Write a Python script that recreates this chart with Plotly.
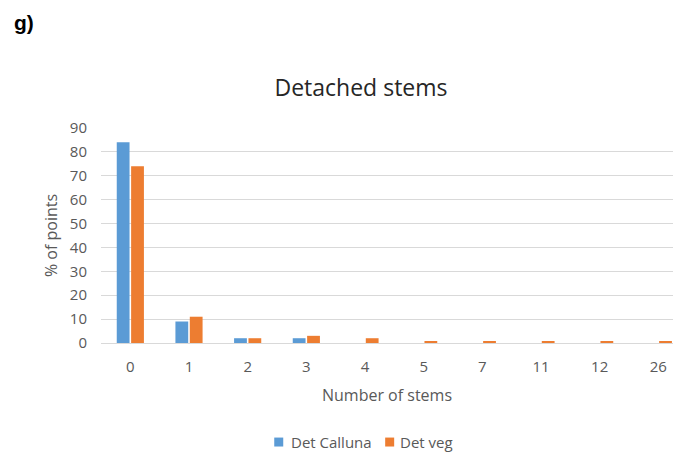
import plotly.graph_objects as go

categories = ["0", "1", "2", "3", "4", "5", "7", "11", "12", "26"]
det_calluna = [84, 9, 2, 2, 0, 0, 0, 0, 0, 0]
det_veg = [74, 11, 2, 3, 2, 0.8, 0.8, 0.8, 0.8, 0.8]
series_names = ["Det Calluna", "Det veg"]
series_colors = ["#5B9BD5", "#ED7D31"]

FONT = "Open Sans"
GREY = "#595959"

fig = go.Figure()
for name, vals, col in zip(series_names, [det_calluna, det_veg], series_colors):
    fig.add_trace(go.Bar(x=categories, y=vals, name=name,
                         marker=dict(color=col, line=dict(width=0))))

# the page is offset by an 8px body margin; visible area ends at x=673, y=456
W, H = 665, 448
L, T, B = 92.65, 119.5, 112.5
PW = W - L
PH = H - T - B


def px(fx):
    return (fx - L) / PW


def py(fy):
    return (T + PH - fy) / PH


# legend drawn as key squares + text (legend row, figure pixel coords)
legend_x = [(266, 281), (377, 390)]
legend_y = 435
shapes = []
annotations = [dict(text="<b>g)</b>", xref="paper", yref="paper", x=px(4),
                    xanchor="left", y=py(14), yanchor="middle",
                    showarrow=False, font=dict(family="Liberation Sans", size=21, color="black"))]
for (sx, tx), name, col in zip(legend_x, series_names, series_colors):
    shapes.append(dict(type="rect", xref="paper", yref="paper",
                       x0=px(sx), x1=px(sx + 9), y0=py(legend_y + 4.5), y1=py(legend_y - 4.5),
                       fillcolor=col, line=dict(width=0)))
    annotations.append(dict(text=name, xref="paper", yref="paper", x=px(tx), xanchor="left",
                            y=py(legend_y), yanchor="middle", showarrow=False,
                            font=dict(family=FONT, size=15, color=GREY)))

fig.update_layout(
    width=W, height=H,
    paper_bgcolor="white", plot_bgcolor="white",
    margin=dict(l=L, r=0, t=T, b=B),
    barmode="group", bargap=0.51, bargroupgap=0.11,
    showlegend=False,
    font=dict(family=FONT, size=15, color=GREY),
    title=dict(text="Detached stems", x=353 / W, xanchor="center", y=1 - 80 / H, yanchor="middle",
               font=dict(family=FONT, size=23, color="#262626")),
    shapes=shapes,
    annotations=annotations,
)
fig.update_xaxes(type="category", range=[-0.5, 9.25], showgrid=False,
                 showline=True, linecolor="#D9D9D9", linewidth=1,
                 ticks="outside", ticklen=10, tickcolor="rgba(0,0,0,0)",
                 tickfont=dict(family=FONT, size=15, color=GREY),
                 title=dict(text="Number of stems", standoff=14,
                            font=dict(family=FONT, size=16, color=GREY)))
fig.update_yaxes(range=[0, 90], dtick=10, showgrid=True, gridcolor="#D9D9D9", gridwidth=1,
                 zeroline=False, showline=False,
                 ticks="outside", ticklen=10, tickcolor="rgba(0,0,0,0)",
                 tickfont=dict(family=FONT, size=15, color=GREY),
                 title=dict(text="% of points", standoff=8,
                            font=dict(family=FONT, size=16, color=GREY)))

fig.write_html("out.html")
